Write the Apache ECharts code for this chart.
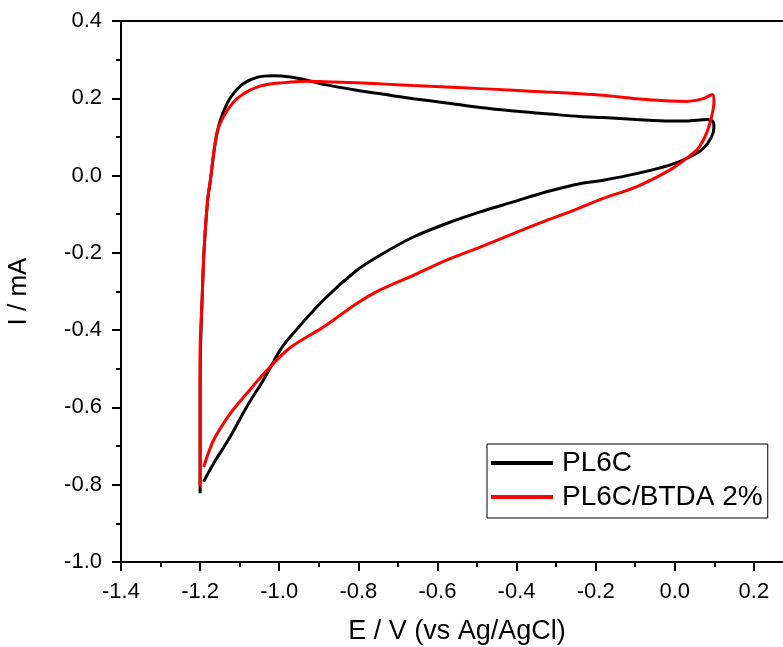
<!DOCTYPE html>
<html>
<head>
<meta charset="utf-8">
<script src="https://cdn.jsdelivr.net/npm/echarts@6/dist/echarts.min.js"></script>
<style>
  html, body { margin: 0; padding: 0; background: #fff; }
  #cvChart { width: 783px; height: 647px; }
</style>
</head>
<body>
<div id="cvChart"></div>
<script>
// CV loops: potential E (V vs Ag/AgCl) and current I (mA)
const pl6cE = [-1.200, -1.200, -1.200, -1.199, -1.195, -1.190, -1.181, -1.174, -1.162, -1.149, -1.132, -1.116,
  -1.090, -1.056, -1.015, -0.972, -0.930, -0.888, -0.804, -0.720, -0.661, -0.577, -0.492, -0.408,
  -0.324, -0.240, -0.181, -0.097, -0.013, 0.030, 0.080, 0.097, 0.099, 0.093, 0.072, 0.038,
  -0.013, -0.097, -0.181, -0.240, -0.324, -0.408, -0.492, -0.577, -0.661, -0.745, -0.804, -0.888,
  -0.972, -0.998, -1.040, -1.082, -1.124, -1.166, -1.191]
const pl6cI = [-0.822, -0.700, -0.580, -0.452, -0.322, -0.193, -0.064, -0.012, 0.083, 0.143, 0.186, 0.212,
  0.238, 0.254, 0.258, 0.255, 0.247, 0.236, 0.221, 0.208, 0.199, 0.188, 0.176, 0.167,
  0.160, 0.153, 0.150, 0.145, 0.141, 0.141, 0.145, 0.139, 0.126, 0.100, 0.070, 0.048,
  0.027, 0.005, -0.012, -0.021, -0.042, -0.068, -0.094, -0.124, -0.159, -0.206, -0.245, -0.322,
  -0.417, -0.452, -0.529, -0.598, -0.676, -0.745, -0.792]

const btdaE = [-1.200, -1.200, -1.200, -1.195, -1.190, -1.181, -1.174, -1.158, -1.141, -1.116, -1.090, -1.056,
  -1.015, -0.972, -0.930, -0.888, -0.804, -0.720, -0.661, -0.577, -0.492, -0.408, -0.324, -0.240,
  -0.181, -0.097, -0.013, 0.030, 0.072, 0.095, 0.099, 0.093, 0.080, 0.059, 0.030, -0.013,
  -0.097, -0.181, -0.265, -0.324, -0.408, -0.492, -0.577, -0.661, -0.745, -0.804, -0.888, -0.972,
  -1.031, -1.082, -1.124, -1.166, -1.191]
const btdaI = [-0.805, -0.600, -0.452, -0.322, -0.193, -0.064, -0.012, 0.109, 0.152, 0.190, 0.212, 0.229,
  0.238, 0.242, 0.244, 0.243, 0.240, 0.236, 0.233, 0.229, 0.225, 0.221, 0.216, 0.212,
  0.208, 0.199, 0.193, 0.192, 0.199, 0.210, 0.190, 0.152, 0.109, 0.070, 0.045, 0.014,
  -0.029, -0.059, -0.094, -0.116, -0.150, -0.185, -0.219, -0.258, -0.296, -0.331, -0.392, -0.445,
  -0.504, -0.564, -0.616, -0.685, -0.754]

const seriesNames = ['PL6C', 'PL6C/BTDA 2%']
const seriesColors = ['#000000', '#ff0000']

const font = '"Liberation Sans", Arial, sans-serif'
const zip = (xs, ys) => xs.map((x, i) => [x, ys[i]])
const fmt = v => (Math.abs(v) < 1e-9 ? 0 : v).toFixed(1)

const chart = echarts.init(document.getElementById('cvChart'))
chart.setOption({
  animation: false,
  color: seriesColors,
  // plot runs past the right edge of the picture, up to E = 0.4
  grid: {
    left: 121, top: 21, width: 712, height: 541,
    outerBoundsMode: 'none',
    show: true, borderColor: '#000', borderWidth: 2
  },
  legend: {
    orient: 'vertical',
    left: 487, top: 444,
    data: seriesNames,
    icon: 'rect',
    itemWidth: 62, itemHeight: 4, itemGap: 6,
    padding: [5, 5, 7, 4],
    borderColor: '#000', borderWidth: 1,
    backgroundColor: '#fff',
    textStyle: { color: '#000', fontSize: 28, fontFamily: font, lineHeight: 28, padding: [0, 0, 0, 4] }
  },
  xAxis: {
    type: 'value',
    min: -1.4, max: 0.4, interval: 0.2,
    name: 'E / V (vs Ag/AgCl)',
    nameLocation: 'middle',
    nameGap: 56,
    // the title sits in the middle of the visible part of the axis
    nameTextStyle: { color: '#000', fontSize: 27, fontFamily: font, padding: [0, 40, 0, 0] },
    axisLine: { show: true, onZero: false, lineStyle: { color: '#000', width: 2 } },
    axisTick: { show: true, length: 9, lineStyle: { color: '#000', width: 2 } },
    minorTick: { show: true, splitNumber: 2, length: 5, lineStyle: { color: '#000', width: 2 } },
    axisLabel: { color: '#000', fontSize: 22, fontFamily: font, margin: 19, formatter: fmt },
    splitLine: { show: false }
  },
  yAxis: {
    type: 'value',
    min: -1.0, max: 0.4, interval: 0.2,
    name: 'I / mA',
    nameLocation: 'middle',
    nameGap: 89,
    nameTextStyle: { color: '#000', fontSize: 26, fontFamily: font },
    axisLine: { show: true, onZero: false, lineStyle: { color: '#000', width: 2 } },
    axisTick: { show: true, length: 9, lineStyle: { color: '#000', width: 2 } },
    minorTick: { show: true, splitNumber: 2, length: 5, lineStyle: { color: '#000', width: 2 } },
    axisLabel: { color: '#000', fontSize: 22, fontFamily: font, margin: 19, formatter: fmt },
    splitLine: { show: false }
  },
  series: [
    {
      name: seriesNames[0],
      type: 'line',
      data: zip(pl6cE, pl6cI),
      showSymbol: false,
      smooth: 0.3,
      lineStyle: { width: 3, color: seriesColors[0] }
    },
    {
      name: seriesNames[1],
      type: 'line',
      data: zip(btdaE, btdaI),
      showSymbol: false,
      smooth: 0.3,
      lineStyle: { width: 3, color: seriesColors[1] }
    }
  ]
})
window.addEventListener('resize', () => {
  chart.resize()
})
</script>
</body>
</html>
